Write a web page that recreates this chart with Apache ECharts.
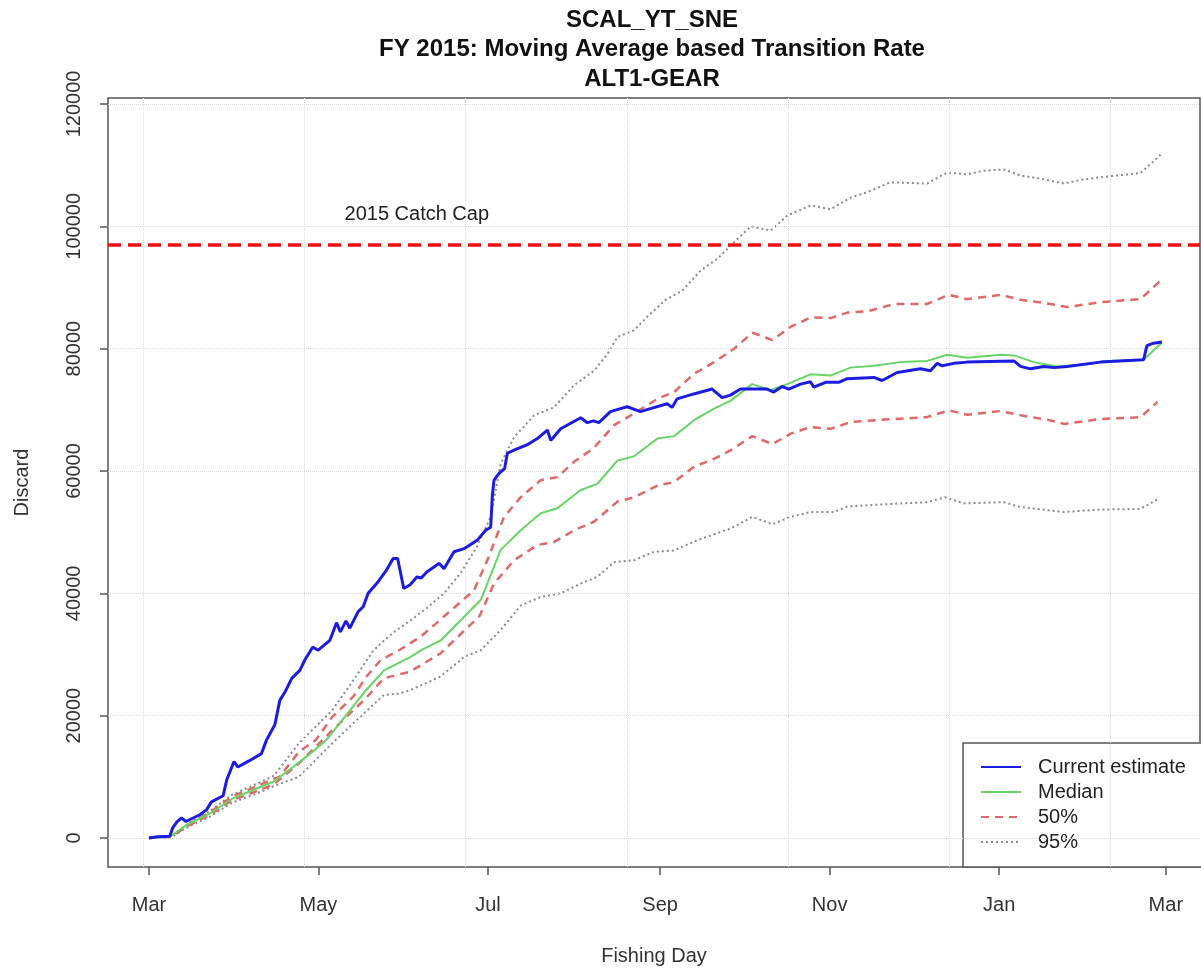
<!DOCTYPE html>
<html>
<head>
<meta charset="utf-8">
<title>SCAL_YT_SNE discard projection</title>
<script src="https://cdn.jsdelivr.net/npm/echarts@6/dist/echarts.min.js"></script>
<style>
  html, body { margin: 0; padding: 0; background: #fff; }
  #chart { width: 1201px; height: 972px; }
</style>
</head>
<body>
<div id="chart"></div>
<script>
// x = fishing day counted from 1 March 2015
const monthTicks = [0, 61, 122, 184, 245, 306, 366]
const monthLabels = ['Mar', 'May', 'Jul', 'Sep', 'Nov', 'Jan', 'Mar']
const yTicks = [0, 20000, 40000, 60000, 80000, 100000, 120000]
const gridDays = [-2, 56, 114, 172, 230, 288, 346] // R grid() positions
const catchCap = 97000
const capLabel = '2015 Catch Cap'
const capLabelAt = [96.4, 102000]

const currentEstimate = [[0,0],[3,200],[7.5,300],[8.5,1600],[10,2600],[11.7,3300],[13.3,2700],[18.3,3800],[20.7,4600],[22.5,5900],[26.7,6900],[28,9500],[30.6,12500],[32,11600],[36,12600],[40.5,13800],[42.3,16000],[45.3,18500],[47.1,22500],[49,23900],[51.4,26100],[54.3,27400],[56.1,29100],[58.9,31200],[60.9,30700],[65.1,32300],[67.5,35200],[68.9,33700],[70.9,35500],[72.3,34300],[75.3,37000],[77.1,37800],[78.9,40000],[82.5,41900],[85.5,43800],[87.9,45700],[89.5,45700],[91.7,40800],[94,41400],[96.5,42700],[98,42500],[100,43500],[102.6,44300],[104.4,44900],[106.2,44000],[109.8,46800],[113.4,47300],[118.2,48700],[121.2,50300],[123,50800],[123.6,56000],[124.2,58500],[126,59600],[128,60400],[129,62900],[131.4,63400],[136.2,64300],[139.8,65300],[143.4,66700],[144.6,65000],[148.2,66900],[155.4,68700],[157.8,67900],[160,68200],[161.9,67900],[166.1,69700],[169.7,70200],[172.1,70500],[176.9,69700],[180.5,70200],[186.5,71000],[188.3,70400],[190.1,71800],[196.1,72600],[202.7,73400],[206.3,72000],[209.3,72400],[212.9,73400],[222.5,73400],[224.9,72900],[227.9,73800],[230.3,73400],[234.5,74200],[238.1,74600],[239.3,73700],[243.5,74500],[248.3,74500],[251.3,75100],[260.9,75300],[263.9,74800],[269.3,76100],[277.7,76700],[281.3,76400],[283.7,77600],[285.5,77200],[289.7,77600],[294.5,77800],[311.3,78000],[313.7,77100],[317.3,76700],[322.1,77100],[325.7,76900],[330.5,77100],[342.5,77800],[358,78200],[359.2,80500],[361.6,80900],[364.6,81100]]

const median = [[0,0],[7.6,200],[13.5,2100],[21.9,4000],[30.3,6500],[38.7,8100],[44.7,9200],[49.5,10800],[56.7,13300],[63.8,16000],[71,20100],[78.2,24200],[84.6,27400],[94.2,29600],[98,30700],[105,32300],[112.2,35600],[119.4,38900],[126.6,47100],[133.8,50300],[141,53100],[147,53900],[155.4,56900],[161.4,57900],[168.6,61700],[174.6,62400],[183,65300],[189,65700],[196.2,68300],[203.4,70200],[209.4,71500],[217.1,74200],[223.7,73200],[229.7,74200],[238.1,75800],[245.3,75600],[252.5,76900],[260.9,77200],[270.5,77800],[280.1,78000],[287.3,79000],[294.5,78500],[306.5,79000],[311.3,78900],[318.5,77800],[326.9,77100],[336.5,77400],[344.9,78000],[358,78200],[364.6,81000]]

const upper50 = [[0,0],[8,250],[14,2200],[22,4200],[30,6800],[39,8500],[45,9700],[47,10000],[54,14100],[60,16000],[66,19800],[73.5,23100],[78.3,26400],[83.4,29100],[90,30700],[97.8,32900],[107.4,36700],[117,40500],[121.8,45400],[127.8,52500],[133.8,55700],[141,58500],[147,59000],[153,61500],[160,63700],[167.4,67500],[174.6,69400],[183,71800],[189,72900],[196.2,75900],[203.4,77800],[210.6,80000],[217.2,82600],[224.4,81400],[231,83600],[238.2,85100],[245.4,85000],[251.4,85900],[258.6,86100],[268.2,87300],[280,87300],[287.9,88800],[294.5,88100],[306.5,88800],[313.7,88000],[323.3,87400],[330.5,86800],[342.5,87600],[356.9,88100],[364,91100]]

const lower50 = [[0,0],[8,180],[14,2000],[22,3800],[30,6200],[39,7700],[45,8800],[54,12200],[66,17600],[78,22800],[84.5,26100],[94,27200],[105,30200],[119,36300],[124.2,41600],[131.4,45400],[139.8,47900],[145.8,48400],[153,50300],[160.2,51700],[168.6,55000],[174.6,55700],[183,57600],[189,58200],[196.2,60700],[203.4,62000],[209.4,63400],[217.2,65700],[224.4,64400],[231,66100],[238.2,67200],[245.4,66900],[252.6,68000],[264.6,68400],[280,68800],[287.9,69900],[294.5,69200],[306.5,69800],[313.7,69100],[323.3,68400],[329.3,67700],[342.5,68500],[356.9,68800],[363,71300]]

const upper95 = [[0,0],[8,300],[14,2300],[22,4400],[30,7100],[39,8900],[45,10200],[54,15500],[66,20900],[74.5,26400],[80.5,30500],[83.4,31800],[88,33600],[94.2,35600],[100,37600],[106.2,40000],[112,43200],[118,47600],[123,52500],[126.6,61200],[131.4,65500],[138.6,69100],[145.8,70400],[153,74000],[160.2,76400],[165,79100],[168.6,81900],[174.6,83000],[180,85500],[186,88000],[192,89500],[198.6,92800],[204.6,94700],[210.6,97400],[216.6,100000],[223.8,99300],[229.8,101800],[238.2,103400],[245.4,102800],[252.6,104700],[258.6,105600],[266.9,107200],[280.1,107000],[287.3,108800],[294.5,108500],[300.5,109100],[307.7,109300],[313.7,108300],[320.9,107800],[329.3,107000],[336.5,107700],[346.1,108200],[356.9,108700],[364.1,111700]]

const lower95 = [[0,0],[8,150],[14,1800],[22,3500],[30,5800],[39,7300],[45,8500],[54,10000],[66,15500],[76,19800],[84.6,23400],[90,23600],[94.2,24200],[105,26400],[113.4,29600],[119.4,30700],[126.6,34000],[133.8,38000],[141,39400],[148.2,40000],[155.4,41600],[161.4,42700],[167.4,45100],[174.6,45400],[181.8,46800],[189,47000],[197.4,48700],[209.4,50600],[217.2,52500],[224.4,51300],[231,52500],[238.2,53300],[246.6,53300],[251.4,54200],[270.5,54700],[280.1,54900],[286.7,55700],[293.3,54700],[307.7,54900],[313.7,54100],[329.3,53300],[342.5,53700],[356.9,53800],[363.5,55500]]

const FONT = 'Liberation Sans, Arial, Helvetica, sans-serif'
const titleLines = ['SCAL_YT_SNE', 'FY 2015: Moving Average based Transition Rate', 'ALT1-GEAR']

const chart = echarts.init(document.getElementById('chart'), null, { renderer: 'canvas' })

chart.setOption({
  animation: false,
  backgroundColor: '#fff',
  title: titleLines.map((t, i) => ({
    text: t,
    left: 652,
    top: 8 + i * 29.5,
    textAlign: 'center',
    padding: 0,
    textStyle: { fontFamily: FONT, fontSize: 24, fontWeight: 'bold', color: '#111', lineHeight: 24 }
  })),
  grid: {
    left: 108,
    top: 98,
    right: 1,
    bottom: 105,
    show: true,
    borderColor: '#555',
    borderWidth: 1.5
  },
  legend: {
    data: ['Current estimate', 'Median', '50%', '95%'],
    orient: 'vertical',
    left: 963,
    top: 743,
    padding: [14, 30, 15, 17],
    itemGap: 5,
    itemWidth: 40,
    itemHeight: 14,
    itemStyle: { opacity: 0 },
    backgroundColor: '#fff',
    borderColor: '#555',
    borderWidth: 1.5,
    borderRadius: 0,
    textStyle: { fontFamily: FONT, fontSize: 20, color: '#222', lineHeight: 20, padding: [0, 0, 0, 12] }
  },
  xAxis: {
    type: 'value',
    min: -14.74,
    max: 378.3,
    name: 'Fishing Day',
    nameLocation: 'middle',
    nameGap: 79,
    nameTextStyle: { fontFamily: FONT, fontSize: 20, color: '#333' },
    axisLine: { show: false, onZero: false },
    splitLine: { show: false },
    axisTick: { show: true, customValues: monthTicks, length: 8, lineStyle: { color: '#555', width: 1.5 } },
    axisLabel: {
      customValues: monthTicks,
      margin: 28,
      fontFamily: FONT,
      fontSize: 20,
      color: '#333',
      formatter: v => monthLabels[monthTicks.indexOf(v)]
    }
  },
  yAxis: {
    type: 'value',
    min: -4741,
    max: 120980,
    name: 'Discard',
    nameLocation: 'middle',
    nameGap: 76,
    nameTextStyle: { fontFamily: FONT, fontSize: 20, color: '#333' },
    axisLine: { show: false, onZero: false },
    splitLine: { show: false },
    axisTick: { show: true, customValues: yTicks, length: 8, lineStyle: { color: '#555', width: 1.5 } },
    axisLabel: {
      customValues: yTicks,
      rotate: 90,
      margin: 24,
      fontFamily: FONT,
      fontSize: 20,
      color: '#333',
      formatter: v => String(v)
    }
  },
  series: [
    {
      name: 'grid',
      type: 'line',
      data: [],
      silent: true,
      z: 1,
      markLine: {
        silent: true,
        symbol: 'none',
        label: { show: false },
        lineStyle: { color: '#d9d9d9', type: 'dotted', width: 1 },
        data: gridDays.map(d => ({ xAxis: d })).concat(yTicks.map(v => ({ yAxis: v })))
      }
    },
    {
      name: 'Catch cap',
      type: 'line',
      data: [],
      z: 3,
      markLine: {
        silent: true,
        symbol: 'none',
        label: { show: false },
        lineStyle: { color: '#f01010', type: [13, 7], width: 3.5 },
        data: [{ yAxis: catchCap }]
      },
      markPoint: {
        silent: true,
        symbol: 'circle',
        symbolSize: 1,
        itemStyle: { color: 'rgba(0,0,0,0)' },
        label: {
          show: true,
          position: 'inside',
          formatter: capLabel,
          fontFamily: FONT,
          fontSize: 20,
          color: '#222'
        },
        data: [{ coord: capLabelAt }]
      }
    },
    {
      name: '95%', type: 'line', data: upper95, symbol: 'none', z: 4,
      lineStyle: { color: '#8a8a8a', type: [2, 3], width: 2 }, itemStyle: { color: '#8a8a8a' }
    },
    {
      name: '95%', type: 'line', data: lower95, symbol: 'none', z: 4,
      lineStyle: { color: '#8a8a8a', type: [2, 3], width: 2 }, itemStyle: { color: '#8a8a8a' }
    },
    {
      name: '50%', type: 'line', data: upper50, symbol: 'none', z: 5,
      lineStyle: { color: '#e06868', type: [8, 6], width: 2.5 }, itemStyle: { color: '#e06868' }
    },
    {
      name: '50%', type: 'line', data: lower50, symbol: 'none', z: 5,
      lineStyle: { color: '#e06868', type: [8, 6], width: 2.5 }, itemStyle: { color: '#e06868' }
    },
    {
      name: 'Median', type: 'line', data: median, symbol: 'none', z: 6,
      lineStyle: { color: '#66d466', width: 2 }, itemStyle: { color: '#66d466' }
    },
    {
      name: 'Current estimate', type: 'line', data: currentEstimate, symbol: 'none', z: 7,
      lineStyle: { color: '#1c1ce0', width: 3 }, itemStyle: { color: '#1c1ce0' }
    }
  ]
})
</script>
</body>
</html>
